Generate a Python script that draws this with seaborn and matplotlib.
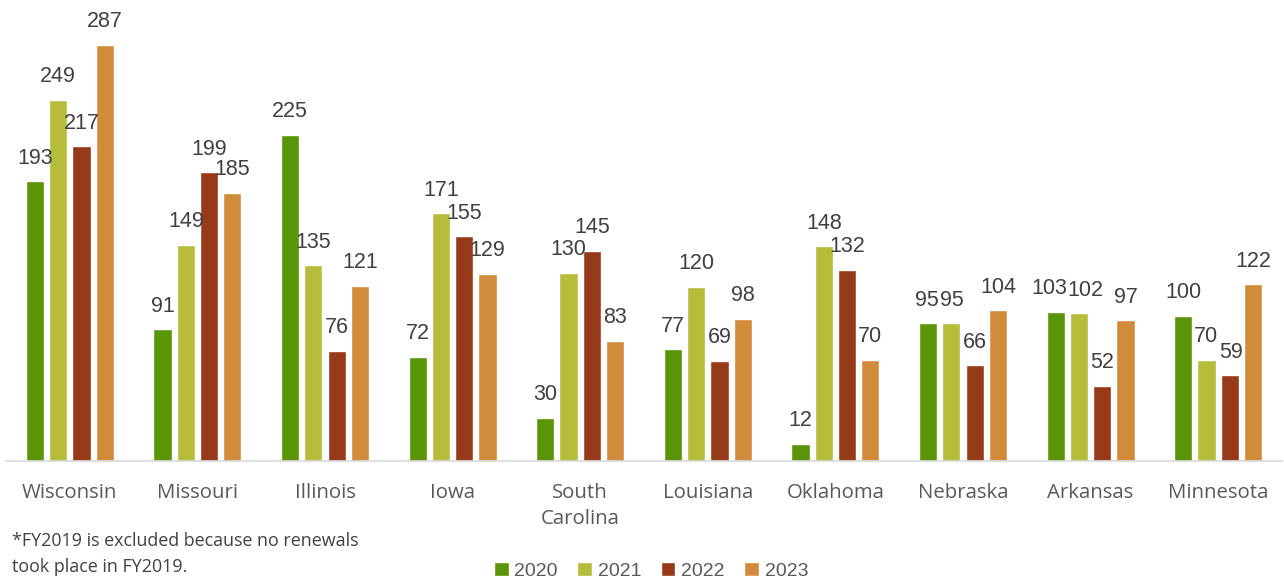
import matplotlib
matplotlib.use("Agg")
import matplotlib.pyplot as plt
import seaborn as sns
import pandas as pd

states = ["Wisconsin", "Missouri", "Illinois", "Iowa", "South\nCarolina",
          "Louisiana", "Oklahoma", "Nebraska", "Arkansas", "Minnesota"]
years = ["2020", "2021", "2022", "2023"]
v2020 = [193, 91, 225, 72, 30, 77, 12, 95, 103, 100]
v2021 = [249, 149, 135, 171, 130, 120, 148, 95, 102, 70]
v2022 = [217, 199, 76, 155, 145, 69, 132, 66, 52, 59]
v2023 = [287, 185, 121, 129, 83, 98, 70, 104, 97, 122]
colors = ["#5a9408", "#b5bd3a", "#963a1a", "#d08c3a"]

rows = []
for yr, vals in zip(years, [v2020, v2021, v2022, v2023]):
    for st, v in zip(states, vals):
        rows.append({"state": st, "year": yr, "count": v})
df = pd.DataFrame(rows)

sns.set_theme(style="white")
plt.rcParams["font.family"] = ["Liberation Sans", "DejaVu Sans"]

fig = plt.figure(figsize=(12.84, 5.8), dpi=100)
ax = fig.add_axes([6 / 1284, 1 - 461 / 580, 1276 / 1284, 435 / 580])

sns.barplot(data=df, x="state", y="count", hue="year", hue_order=years,
            order=states, palette=colors, width=0.73, gap=0.22,
            saturation=1, ax=ax, legend=True, errorbar=None)

label_sets = []
for cont in ax.containers:
    label_sets.append(ax.bar_label(cont, padding=9, fontsize=15.5, color="#404040",
                                   family="Liberation Sans"))

ax.set_ylim(0, 300)
ax.set_xlim(-0.5, len(states) - 0.5)
ax.set_xlabel("")
ax.set_ylabel("")
ax.set_yticks([])
for side in ["top", "right", "left"]:
    ax.spines[side].set_visible(False)
ax.spines["bottom"].set_color("#d9d9d9")
ax.spines["bottom"].set_linewidth(1.2)
ax.tick_params(axis="x", length=0, pad=16)
for lbl in ax.get_xticklabels():
    lbl.set_fontfamily("Open Sans")
    lbl.set_fontsize(14.7)
    lbl.set_color("#595959")
    lbl.set_linespacing(1.4)

handles, labels = ax.get_legend_handles_labels()
ax.get_legend().remove()
fig.legend(handles, labels, loc="center", bbox_to_anchor=(651 / 1284, 1 - 571 / 580),
           ncol=4, frameon=False, fontsize=14, handlelength=0.75, handleheight=0.75,
           handletextpad=0.3, columnspacing=1.0, labelcolor="#595959")

fig.text(12 / 1284, 1 - 541 / 580, "*FY2019 is excluded because no renewals",
         fontsize=12.9, family="Open Sans", color="#404040", va="center", ha="left")
fig.text(12 / 1284, 1 - 567 / 580, "took place in FY2019.",
         fontsize=12.9, family="Open Sans", color="#404040", va="center", ha="left")

# nudge neighbouring value labels apart where they would collide
fig.canvas.draw()
renderer = fig.canvas.get_renderer()
for i in range(len(states)):
    group = [ls[i] for ls in label_sets]
    for a, b in zip(group[:-1], group[1:]):
        ea = a.get_window_extent(renderer)
        eb = b.get_window_extent(renderer)
        vert = min(ea.y1, eb.y1) - max(ea.y0, eb.y0)
        horiz = ea.x1 - eb.x0
        if vert > 2 and horiz > 0:
            shift = (horiz + 1) / 2 * 72 / fig.dpi
            for t, s in ((a, -shift), (b, shift)):
                x0, y0 = t.xyann
                t.xyann = (x0 + s, y0)

fig.savefig("out.png", dpi=100)
